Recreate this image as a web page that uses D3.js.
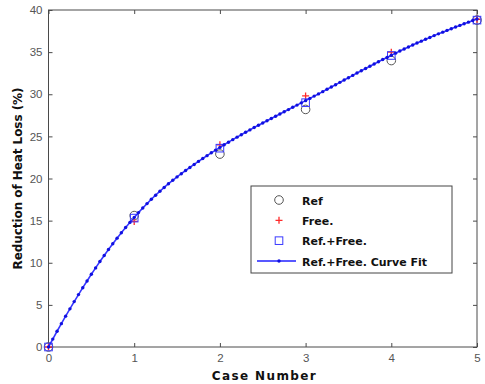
<!DOCTYPE html>
<html>
<head>
<meta charset="utf-8">
<script src="https://cdn.jsdelivr.net/npm/d3@7"></script>
<style>
body { margin: 0; background: #fff; }
text { font-family: "Liberation Sans", Arial, sans-serif; }
</style>
</head>
<body>
<div id="canvas"></div>
<script>
// DATA -----------------------------------------------------
var cases = [0, 1, 2, 3, 4, 5];
var ref_values = [0, 15.6, 22.9, 28.2, 34.0, 38.8];
var free_values = [0, 14.9, 24.0, 29.8, 35.0, 38.9];
var ref_free_values = [0, 15.3, 23.6, 29.0, 34.6, 38.8];

// curve fit, sampled every 0.05 case
var fit_x = d3.range(0, 101).map((i) => i / 20);
var fit_values = [
0, 0.94, 1.87, 2.77, 3.66, 4.53, 5.39, 6.22, 7.04, 7.84,
8.63, 9.39, 10.14, 10.86, 11.57, 12.25, 12.92, 13.56, 14.19, 14.79,
15.38, 15.95, 16.49, 17.02, 17.53, 18.02, 18.49, 18.94, 19.38, 19.79,
20.19, 20.57, 20.95, 21.31, 21.67, 22.03, 22.37, 22.71, 23.05, 23.37,
23.69, 24.00, 24.31, 24.61, 24.91, 25.20, 25.49, 25.77, 26.05, 26.32,
26.59, 26.86, 27.12, 27.39, 27.65, 27.92, 28.18, 28.45, 28.71, 28.98,
29.24, 29.51, 29.78, 30.04, 30.31, 30.59, 30.86, 31.13, 31.41, 31.69,
31.96, 32.24, 32.52, 32.79, 33.06, 33.33, 33.59, 33.86, 34.12, 34.37,
34.63, 34.88, 35.13, 35.37, 35.61, 35.85, 36.08, 36.30, 36.53, 36.74,
36.96, 37.17, 37.37, 37.58, 37.78, 37.98, 38.17, 38.37, 38.56, 38.75,
38.93
];

var x_ticks = [0, 1, 2, 3, 4, 5];
var y_ticks = [0, 5, 10, 15, 20, 25, 30, 35, 40];

var legend_labels = ["Ref", "Free.", "Ref.+Free.", "Ref.+Free. Curve Fit"];

// STRUCTURE ------------------------------------------------
var W = 485, H = 384;
var plot = { left: 48.5, right: 477, top: 10, bottom: 347 };
var axis_color = "#4a4a4a";
var bold_font = "'DejaVu Sans', Verdana, sans-serif";

var svg = d3.select("#canvas").append("svg")
.attr("width", W)
.attr("height", H)
.style("background-color", "#fff");

var xScale = d3.scaleLinear().domain([0, 5]).range([plot.left, plot.right]);
var yScale = d3.scaleLinear().domain([0, 40]).range([plot.bottom, plot.top]);

// AXES -----------------------------------------------------
var axis_group = svg.append("g").attr("class", "axis_group");

function styleAxis(g) {
g.select(".domain").remove();
g.selectAll(".tick line").attr("stroke", axis_color);
g.selectAll(".tick text")
.attr("fill", "#555")
.style("font-size", "11.5px")
.style("font-family", "'Liberation Sans', Arial, sans-serif");
}

// bottom, ticks point inside
axis_group.append("g")
.attr("transform", `translate(0, ${plot.bottom})`)
.call(d3.axisBottom(xScale).tickValues(x_ticks).tickSize(-4).tickPadding(7).tickFormat(d3.format("d")))
.call(styleAxis);
// top
axis_group.append("g")
.attr("transform", `translate(0, ${plot.top})`)
.call(d3.axisTop(xScale).tickValues(x_ticks).tickSize(-4).tickFormat(""))
.call(styleAxis);
// left
axis_group.append("g")
.attr("transform", `translate(${plot.left}, 0)`)
.call(d3.axisLeft(yScale).tickValues(y_ticks).tickSize(-4).tickPadding(6).tickFormat(d3.format("d")))
.call(styleAxis);
// right
axis_group.append("g")
.attr("transform", `translate(${plot.right}, 0)`)
.call(d3.axisRight(yScale).tickValues(y_ticks).tickSize(-4).tickFormat(""))
.call(styleAxis);

// box
axis_group.append("rect")
.attr("x", plot.left)
.attr("y", plot.top)
.attr("width", plot.right - plot.left)
.attr("height", plot.bottom - plot.top)
.attr("fill", "none")
.attr("stroke", axis_color)
.attr("stroke-width", 1);

// axis titles
svg.append("text")
.attr("x", (plot.left + plot.right) / 2 + 1)
.attr("y", 380)
.attr("text-anchor", "middle")
.attr("textLength", 104)
.attr("lengthAdjust", "spacing")
.style("font-family", bold_font)
.style("font-size", "12px")
.style("font-weight", "bold")
.attr("fill", "#111")
.text("Case Number");

svg.append("text")
.attr("transform", `translate(22, ${(plot.top + plot.bottom) / 2}) rotate(-90)`)
.attr("text-anchor", "middle")
.attr("textLength", 182)
.attr("lengthAdjust", "spacing")
.style("font-family", bold_font)
.style("font-size", "12px")
.style("font-weight", "bold")
.attr("fill", "#111")
.text("Reduction of Heat Loss (%)");

// MARKERS --------------------------------------------------
var gfx = svg.append("g").attr("class", "gfx_group");

function plusPath(cx, cy, s) {
return `M${cx - s},${cy}H${cx + s}M${cx},${cy - s}V${cy + s}`;
}

// ref circles
gfx.selectAll(".ref").data(cases).enter().append("circle")
.attr("class", "ref")
.attr("cx", (d) => xScale(d))
.attr("cy", (d, i) => yScale(ref_values[i]))
.attr("r", 4.3)
.attr("fill", "none")
.attr("stroke", "#555")
.attr("stroke-width", 1);

// free plus signs
gfx.selectAll(".free").data(cases).enter().append("path")
.attr("class", "free")
.attr("d", (d, i) => plusPath(xScale(d), yScale(free_values[i]), 3.5))
.attr("stroke", "#ff2a2a")
.attr("stroke-width", 1.3);

// ref + free squares
gfx.selectAll(".reffree").data(cases).enter().append("rect")
.attr("class", "reffree")
.attr("x", (d) => xScale(d) - 3.8)
.attr("y", (d, i) => yScale(ref_free_values[i]) - 3.8)
.attr("width", 7.6)
.attr("height", 7.6)
.attr("fill", "none")
.attr("stroke", "#3a3aff")
.attr("stroke-width", 1);

// curve fit
var fit_data = fit_x.map((x, i) => ({ x: x, y: fit_values[i] }));
var line = d3.line().x((d) => xScale(d.x)).y((d) => yScale(d.y));

gfx.append("path")
.datum(fit_data)
.attr("d", line)
.attr("fill", "none")
.attr("stroke", "#2020ff")
.attr("stroke-width", 1.6)
.attr("opacity", 0.9);

gfx.selectAll(".fitdot").data(fit_data).enter().append("circle")
.attr("class", "fitdot")
.attr("cx", (d) => xScale(d.x))
.attr("cy", (d) => yScale(d.y))
.attr("r", 1.7)
.attr("fill", "#1010e0");

// LEGEND ---------------------------------------------------
var legend = svg.append("g").attr("class", "legend_group");
var lg = { x: 251, y: 186, w: 201, h: 87 };

legend.append("rect")
.attr("x", lg.x)
.attr("y", lg.y)
.attr("width", lg.w)
.attr("height", lg.h)
.attr("fill", "#fff")
.attr("stroke", "#444")
.attr("stroke-width", 1);

var row_y = d3.scalePoint().domain(legend_labels).range([200, 261]);
var mark_x = 279;

legend.append("circle")
.attr("cx", mark_x).attr("cy", row_y(legend_labels[0]))
.attr("r", 4.3).attr("fill", "none").attr("stroke", "#555");

legend.append("path")
.attr("d", plusPath(mark_x, row_y(legend_labels[1]), 3.5))
.attr("stroke", "#ff2a2a").attr("stroke-width", 1.3);

legend.append("rect")
.attr("x", mark_x - 3.8).attr("y", row_y(legend_labels[2]) - 3.8)
.attr("width", 7.6).attr("height", 7.6)
.attr("fill", "none").attr("stroke", "#3a3aff");

legend.append("line")
.attr("x1", 257).attr("x2", 296)
.attr("y1", row_y(legend_labels[3])).attr("y2", row_y(legend_labels[3]))
.attr("stroke", "#2020ff").attr("stroke-width", 1.3);
legend.append("circle")
.attr("cx", mark_x).attr("cy", row_y(legend_labels[3]))
.attr("r", 1.7).attr("fill", "#1010e0");

legend.selectAll(".legend_text").data(legend_labels).enter().append("text")
.attr("class", "legend_text")
.attr("x", 302)
.attr("y", (d) => row_y(d) + 4.5)
.style("font-family", bold_font)
.style("font-size", "11px")
.style("font-weight", "bold")
.attr("fill", "#111")
.text((d) => d);
</script>
</body>
</html>
